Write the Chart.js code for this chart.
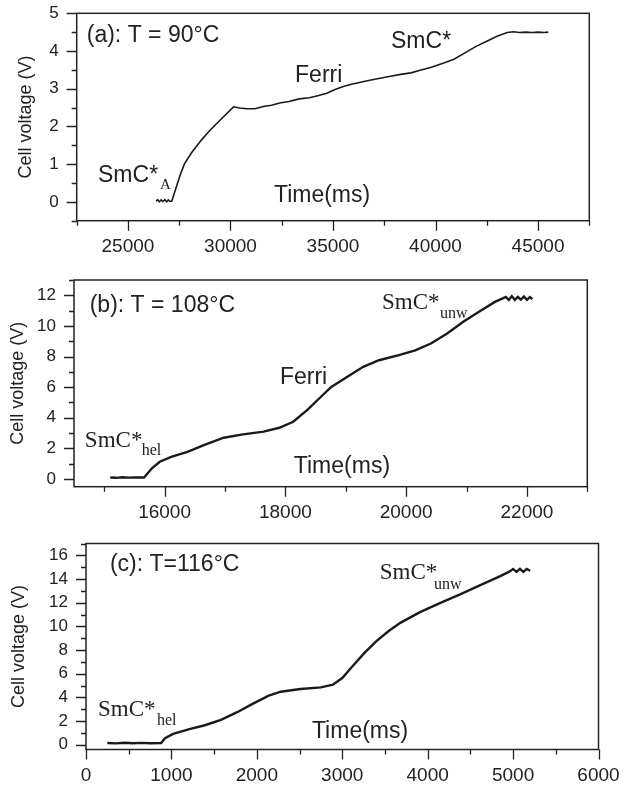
<!DOCTYPE html>
<html>
<head>
<meta charset="utf-8">
<script src="https://cdn.jsdelivr.net/npm/chart.js@4.4.1/dist/chart.umd.min.js"></script>
<style>
  html, body { margin: 0; padding: 0; background: #fff; }
  body { position: relative; width: 626px; height: 787px; overflow: hidden; }
  canvas { position: absolute; left: 0; }
</style>
</head>
<body>
<canvas id="panelA" width="626" height="262" style="top:0px"></canvas>
<canvas id="panelB" width="626" height="262" style="top:262px"></canvas>
<canvas id="panelC" width="626" height="263" style="top:524px"></canvas>
<script>
// (a) T = 90°C
const timeA = [26370, 26450, 26530, 26620, 26700, 26800, 26880, 26970, 27050, 27140,
  27350, 27550, 27750, 28100, 28600, 29000, 29500, 30150, 30450, 30800, 31200, 31600,
  32000, 32400, 32850, 33350, 33850, 34300, 34700, 35100, 35500, 35900, 36400, 36850,
  37300, 37800, 38300, 38800, 39250, 39800, 40400, 40900, 41500, 42000, 42500, 43000,
  43500, 43800, 44100, 44400, 44700, 45000, 45300, 45500];
const voltA = [0.02, 0.06, 0.0, 0.05, 0.01, 0.06, 0.0, 0.05, 0.01, 0.02,
  0.38, 0.72, 1.0, 1.3, 1.65, 1.9, 2.17, 2.52, 2.49, 2.47, 2.47, 2.53,
  2.56, 2.62, 2.66, 2.73, 2.76, 2.82, 2.88, 2.98, 3.06, 3.12, 3.18, 3.23,
  3.28, 3.33, 3.38, 3.42, 3.49, 3.57, 3.68, 3.78, 3.97, 4.13, 4.26, 4.39,
  4.49, 4.51, 4.49, 4.5, 4.49, 4.5, 4.49, 4.5];
const xLabelsA = [25000, 30000, 35000, 40000, 45000];
const yLabelsA = [0, 1, 2, 3, 4, 5];

// (b) T = 108°C
const timeB = [15100, 15200, 15300, 15400, 15500, 15600, 15660, 15700, 15790, 15920,
  16120, 16380, 16650, 16980, 17300, 17640, 17900, 18130, 18360, 18560, 18760, 19020,
  19290, 19550, 19880, 20150, 20410, 20680, 20940, 21200, 21470, 21600, 21650, 21700,
  21750, 21800, 21850, 21900, 21950, 22000, 22050, 22090];
const voltB = [0.1, 0.08, 0.12, 0.09, 0.11, 0.1, 0.1, 0.28, 0.7, 1.13,
  1.46, 1.78, 2.22, 2.7, 2.92, 3.1, 3.35, 3.74, 4.5, 5.26, 6.02, 6.67,
  7.33, 7.76, 8.09, 8.41, 8.85, 9.5, 10.26, 10.91, 11.57, 11.8, 11.9, 11.7,
  11.95, 11.7, 11.9, 11.72, 11.92, 11.7, 11.88, 11.75];
const xLabelsB = [16000, 18000, 20000, 22000];
const yLabelsB = [0, 2, 4, 6, 8, 10, 12];

// (c) T = 116°C
const timeC = [250, 350, 450, 550, 650, 750, 880, 925, 1020, 1200, 1390, 1580, 1770,
  1950, 2140, 2280, 2510, 2750, 2890, 3000, 3120, 3260, 3400, 3540, 3680, 3910, 4150,
  4380, 4610, 4850, 4950, 5000, 5040, 5080, 5120, 5160, 5200];
const voltC = [0.15, 0.12, 0.17, 0.13, 0.16, 0.13, 0.15, 0.55, 0.92, 1.3, 1.65, 2.1, 2.75,
  3.45, 4.15, 4.48, 4.71, 4.85, 5.08, 5.64, 6.63, 7.76, 8.75, 9.59, 10.3, 11.2, 11.99,
  12.7, 13.46, 14.25, 14.6, 14.85, 14.6, 14.85, 14.6, 14.85, 14.7];
const xLabelsC = [0, 1000, 2000, 3000, 4000, 5000, 6000];
const yLabelsC = [0, 2, 4, 6, 8, 10, 12, 14, 16];

const SANS = '"Liberation Sans", Arial, sans-serif';
const SERIF = '"Liberation Serif", "Times New Roman", serif';
const INK = '#222';

// tick positions every minor step inside [min, max]
function minorTicks(scale, step) {
  const out = [];
  const first = Math.ceil(scale.min / step - 1e-9);
  for (let k = first; k * step <= scale.max + 1e-9; k++) out.push({ value: +(k * step).toFixed(6) });
  scale.ticks = out;
}

// keep the plot area exactly where the layout padding puts it
function noPad(s) {
  s.paddingTop = 0; s.paddingBottom = 0; s.paddingLeft = 0; s.paddingRight = 0;
}

// frame, tick marks (major/minor) and in-plot labels
const axisMarks = {
  id: 'axisMarks',
  afterDraw(chart, args, o) {
    const { ctx, chartArea: a } = chart;
    const x = chart.scales.x, y = chart.scales.y;
    ctx.save();
    ctx.strokeStyle = INK;
    ctx.lineWidth = 1.5;
    ctx.strokeRect(a.left, a.top, a.width, a.height);
    ctx.lineWidth = 1.3;
    ctx.beginPath();
    x.ticks.forEach(t => {
      const px = Math.round(x.getPixelForValue(t.value)) + 0.5;
      const len = o.xLabels.includes(t.value) ? 10 : 5;
      ctx.moveTo(px, a.bottom);
      ctx.lineTo(px, a.bottom + len);
    });
    y.ticks.forEach(t => {
      const py = Math.round(y.getPixelForValue(t.value)) + 0.5;
      const len = o.yLabels.includes(t.value) ? 10 : 5;
      ctx.moveTo(a.left, py);
      ctx.lineTo(a.left - len, py);
    });
    ctx.stroke();
    ctx.fillStyle = INK;
    ctx.textAlign = 'left';
    ctx.textBaseline = 'alphabetic';
    o.notes.forEach(n => {
      ctx.font = n.font;
      ctx.fillText(n.text, x.getPixelForValue(n.x), y.getPixelForValue(n.y));
    });
    ctx.restore();
  }
};

function makePanel(id, times, volts, xLabels, yLabels, p) {
  const pts = times.map((t, i) => ({ x: t, y: volts[i] }));
  return new Chart(document.getElementById(id), {
    type: 'line',
    data: {
      datasets: [{
        data: pts,
        borderColor: '#1a1a1a',
        borderWidth: p.lineWidth,
        pointRadius: 0,
        tension: 0
      }]
    },
    options: {
      responsive: false,
      animation: false,
      layout: { padding: { left: 0, right: p.padRight, top: p.padTop, bottom: 0 } },
      plugins: {
        legend: { display: false },
        tooltip: { enabled: false },
        axisMarks: { xLabels: xLabels, yLabels: yLabels, notes: p.notes }
      },
      scales: {
        x: {
          type: 'linear',
          min: p.xMin, max: p.xMax,
          grid: { display: true, drawOnChartArea: false, drawTicks: false },
          border: { display: false },
          afterBuildTicks: s => minorTicks(s, p.xMinor),
          ticks: {
            autoSkip: false, maxRotation: 0, minRotation: 0,
            padding: 15, color: INK, font: { family: SANS, size: 19 },
            callback: v => xLabels.includes(v) ? String(v) : ''
          },
          afterFit: s => { s.height = p.xAxisH; noPad(s); }
        },
        y: {
          min: p.yMin, max: p.yMax,
          grid: { display: true, drawOnChartArea: false, drawTicks: false },
          border: { display: false },
          afterBuildTicks: s => minorTicks(s, p.yMinor),
          ticks: {
            autoSkip: false,
            padding: 18, color: INK, font: { family: SANS, size: 17 },
            callback: v => yLabels.includes(v) ? String(v) : ''
          },
          title: {
            display: true, text: 'Cell voltage (V)', color: INK,
            font: { family: SANS, size: 18 }, padding: { top: p.titlePad, bottom: 0 }
          },
          afterFit: s => { s.width = p.plotLeft; noPad(s); }
        }
      }
    },
    plugins: [axisMarks]
  });
}

makePanel('panelA', timeA, voltA, xLabelsA, yLabelsA, {
  lineWidth: 1.6, plotLeft: 76.7, padRight: 36.7, padTop: 13.3, xAxisH: 41.3, titlePad: 15,
  xMin: 22500, xMax: 47500, xMinor: 2500,
  yMin: -0.5, yMax: 5, yMinor: 0.5,
  notes: [
    { text: '(a): T = 90°C', x: 22990, y: 4.25, font: '23px ' + SANS },
    { text: 'SmC*', x: 23540, y: 0.52, font: '23px ' + SANS },
    { text: 'A', x: 26560, y: 0.35, font: '15px ' + SERIF },
    { text: 'Ferri', x: 33150, y: 3.17, font: '23px ' + SANS },
    { text: 'SmC*', x: 37830, y: 4.08, font: '23px ' + SANS },
    { text: 'Time(ms)', x: 32120, y: 0.0, font: '23px ' + SANS }
  ]
});

makePanel('panelB', timeB, voltB, xLabelsB, yLabelsB, {
  lineWidth: 2.4, plotLeft: 74, padRight: 38.7, padTop: 18, xAxisH: 37.3, titlePad: 7,
  xMin: 14500, xMax: 23000, xMinor: 1000,
  yMin: -0.5, yMax: 13, yMinor: 1,
  notes: [
    { text: '(b): T = 108°C', x: 14760, y: 10.94, font: '23px ' + SANS },
    { text: 'SmC*', x: 14680, y: 2.1, font: '23px ' + SERIF },
    { text: 'hel', x: 15620, y: 1.56, font: '16px ' + SERIF },
    { text: 'Ferri', x: 17910, y: 6.23, font: '23px ' + SANS },
    { text: 'Time(ms)', x: 18140, y: 0.37, font: '23px ' + SANS },
    { text: 'SmC*', x: 19600, y: 11.12, font: '23px ' + SERIF },
    { text: 'unw', x: 20560, y: 10.5, font: '16px ' + SERIF }
  ]
});

makePanel('panelC', timeC, voltC, xLabelsC, yLabelsC, {
  lineWidth: 2.4, plotLeft: 86, padRight: 27.5, padTop: 19.5, xAxisH: 37.5, titlePad: 8,
  xMin: 0, xMax: 6000, xMinor: 500,
  yMin: -0.4, yMax: 17, yMinor: 1,
  notes: [
    { text: '(c): T=116°C', x: 280, y: 14.67, font: '23px ' + SANS },
    { text: 'SmC*', x: 3440, y: 13.97, font: '23px ' + SERIF },
    { text: 'unw', x: 4075, y: 13.12, font: '16px ' + SERIF },
    { text: 'SmC*', x: 140, y: 2.4, font: '23px ' + SERIF },
    { text: 'hel', x: 830, y: 1.69, font: '16px ' + SERIF },
    { text: 'Time(ms)', x: 2645, y: 0.57, font: '23px ' + SANS }
  ]
});
</script>
</body>
</html>
